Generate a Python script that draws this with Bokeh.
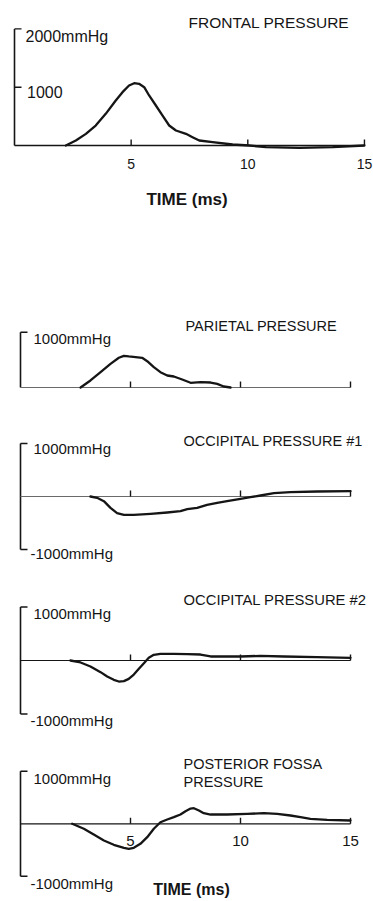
from bokeh.plotting import figure
from bokeh.layouts import column
from bokeh.models import Range1d
from bokeh.core.properties import value
from bokeh.embed import file_html
from bokeh.resources import INLINE

# ---------------- data (time in ms, pressure in mmHg) ----------------
frontal_t = [2.20, 2.63, 3.06, 3.48, 3.91, 4.34, 4.63, 4.91, 5.13, 5.34, 5.56, 5.77, 6.06,
             6.34, 6.63, 6.92, 7.35, 7.63, 7.92, 8.49, 9.35, 10.06, 10.78, 12.21, 13.64, 15.0]
frontal_p = [0, 86, 200, 343, 543, 772, 915, 1029, 1069, 1058, 1000, 858, 686,
             515, 343, 257, 200, 143, 86, 57, 17, 0, -29, -40, -29, 0]

parietal_t = [2.73, 3.18, 3.64, 4.09, 4.47, 4.70, 4.92, 5.23, 5.53, 5.76, 6.06, 6.36, 6.67,
              6.97, 7.35, 7.73, 8.18, 8.64, 8.94, 9.24, 9.55]
parietal_p = [0, 127, 277, 428, 537, 573, 561, 548, 537, 476, 367, 277, 217,
              199, 145, 85, 96, 90, 66, 18, 0]

occ1_t = [3.18, 3.48, 3.79, 4.09, 4.39, 4.70, 5.15, 5.91, 6.67, 7.27, 7.58, 8.03, 8.48,
          8.94, 9.39, 10.0, 10.45, 10.91, 11.52, 12.27, 13.48, 15.0]
occ1_p = [0, -25, -88, -214, -314, -346, -346, -327, -302, -277, -239, -214, -157,
          -119, -88, -44, -13, 19, 63, 82, 94, 101]

occ2_t = [2.27, 2.73, 3.18, 3.64, 3.94, 4.24, 4.47, 4.70, 4.92, 5.15, 5.38, 5.61, 5.83,
          6.06, 6.36, 6.97, 7.58, 8.18, 8.64, 9.39, 10.0, 10.91, 11.97, 13.48, 15.0]
occ2_p = [0, -37, -112, -218, -299, -361, -393, -386, -343, -262, -156, -50, 50,
          106, 125, 125, 118, 112, 75, 75, 75, 87, 75, 62, 50]

fossa_t = [2.35, 2.88, 3.33, 3.79, 4.24, 4.70, 4.92, 5.15, 5.45, 5.76, 6.06, 6.36, 6.67,
           6.97, 7.27, 7.50, 7.73, 7.88, 8.11, 8.33, 8.64, 9.39, 10.3, 11.06, 11.67,
           12.27, 12.73, 13.18, 13.94, 15.0]
fossa_p = [0, -95, -204, -318, -400, -457, -476, -457, -381, -255, -95, 30, 82,
           126, 177, 240, 291, 297, 253, 202, 177, 177, 190, 202, 190,
           158, 126, 95, 76, 63]

x_ticks = [5, 10, 15]
x_tick_labels = ["5", "10", "15"]
t_end = 15

titles = ["FRONTAL PRESSURE", "PARIETAL PRESSURE", "OCCIPITAL PRESSURE #1",
          "OCCIPITAL PRESSURE #2", "POSTERIOR FOSSA", "PRESSURE"]
x_label = "TIME (ms)"

# ---------------- style ----------------
W = 373
FONT = "Liberation Sans"
INK = "#151515"
GREY = "#6a6a6a"


class Panel:
    def __init__(self, top, height, base_y, px_per_k, axis_x, px_per_ms):
        self.top, self.height, self.base_y = top, height, base_y
        self.k, self.axis_x, self.ms = px_per_k, axis_x, px_per_ms
        x0 = -axis_x / px_per_ms
        x1 = (W - axis_x) / px_per_ms
        y1 = (base_y - top) / px_per_k * 1000
        y0 = -(top + height - base_y) / px_per_k * 1000
        p = figure(width=W, height=height, x_range=Range1d(x0, x1), y_range=Range1d(y0, y1),
                   output_backend="svg", toolbar_location=None, min_border=0,
                   x_axis_location=None, y_axis_location=None, title=None)
        p.grid.grid_line_color = None
        p.outline_line_color = None
        p.background_fill_color = "white"
        p.border_fill_color = "white"
        self.p = p

    def X(self, img_x):
        return (img_x - self.axis_x) / self.ms

    def Y(self, img_y):
        return (self.base_y - img_y) / self.k * 1000

    def DX(self, px):
        return px / self.ms

    def DY(self, px):
        return px / self.k * 1000

    def text(self, x, y, s, size, align="left", bold=False):
        self.p.text(x=[x], y=[y], text=[s], text_font=value(FONT),
                    text_font_size=value(f"{size}px"), text_align=align,
                    text_baseline="alphabetic", text_color=INK,
                    text_font_style="bold" if bold else "normal")

    def axes(self, y_top, y_bot, y_tick_vals, base_color, base_width, tick_px=6):
        p = self.p
        p.segment(x0=[0], y0=[y_bot], x1=[0], y1=[y_top], line_color=INK, line_width=1.6)
        for v in y_tick_vals:
            p.segment(x0=[0], y0=[v], x1=[self.DX(7)], y1=[v], line_color=INK, line_width=1.4)
        p.segment(x0=[0], y0=[0], x1=[t_end], y1=[0], line_color=base_color, line_width=base_width)
        p.segment(x0=x_ticks, y0=[0] * len(x_ticks), x1=x_ticks,
                  y1=[self.DY(tick_px)] * len(x_ticks), line_color=INK, line_width=1.4)

    def curve(self, t, v):
        self.p.line(t, v, line_color=INK, line_width=2.3, line_join="round", line_cap="round")


# ---- panel 1: frontal ----
p1 = Panel(top=0, height=300, base_y=145, px_per_k=58.3, axis_x=14, px_per_ms=23.33)
p1.axes(2000, 0, [2000, 1000], INK, 1.5)
p1.curve(frontal_t, frontal_p)
p1.text(p1.X(188), p1.Y(21.7), titles[0], 15.5)
p1.text(p1.X(25), p1.Y(36), "2000mmHg", 16)
p1.text(p1.X(26.5), p1.Y(91.5), "1000", 16)
for t, s in zip(x_ticks, x_tick_labels):
    p1.text(t, p1.Y(163), s, 14, align="center")
p1.text(p1.X(186.5), p1.Y(199), x_label, 17, align="center", bold=True)

# ---- panel 2: parietal ----
p2 = Panel(top=300, height=110, base_y=387, px_per_k=55.3, axis_x=20, px_per_ms=22)
p2.axes(1000, 0, [1000], GREY, 1.1)
p2.curve(parietal_t, parietal_p)
p2.text(p2.X(185), p2.Y(325), titles[1], 14.5)
p2.text(p2.X(33), p2.Y(338.3), "1000mmHg", 15)

# ---- panel 3: occipital #1 ----
p3 = Panel(top=410, height=152, base_y=496, px_per_k=53, axis_x=20, px_per_ms=22)
p3.axes(1000, -1000, [1000, -1000], GREY, 1.1)
p3.curve(occ1_t, occ1_p)
p3.text(p3.X(183), p3.Y(440), titles[2], 14.5)
p3.text(p3.X(33), p3.Y(448), "1000mmHg", 15)
p3.text(p3.X(30), p3.Y(553), "-1000mmHg", 15)

# ---- panel 4: occipital #2 ----
p4 = Panel(top=562, height=173, base_y=660, px_per_k=53.5, axis_x=20, px_per_ms=22)
p4.axes(1000, -1000, [1000, -1000], INK, 1.2)
p4.curve(occ2_t, occ2_p)
p4.text(p4.X(183), p4.Y(599), titles[3], 14.8)
p4.text(p4.X(33), p4.Y(613), "1000mmHg", 15)
p4.text(p4.X(30), p4.Y(720), "-1000mmHg", 15)

# ---- panel 5: posterior fossa ----
p5 = Panel(top=735, height=165, base_y=823.3, px_per_k=52.5, axis_x=20, px_per_ms=22)
p5.axes(1000, -1000, [1000, -1000], INK, 1.3)
p5.curve(fossa_t, fossa_p)
p5.text(p5.X(183), p5.Y(763), titles[4], 14.5)
p5.text(p5.X(183), p5.Y(781.5), titles[5], 14.5)
p5.text(p5.X(33), p5.Y(778.3), "1000mmHg", 15)
p5.text(p5.X(30), p5.Y(883), "-1000mmHg", 15)
for t, s in zip(x_ticks, x_tick_labels):
    p5.text(t, p5.Y(840.5), s, 15, align="center")
p5.text(p5.X(191), p5.Y(889), x_label, 16, align="center", bold=True)

layout = column(p1.p, p2.p, p3.p, p4.p, p5.p, spacing=0)

open("out.html", "w").write(file_html(layout, INLINE))
